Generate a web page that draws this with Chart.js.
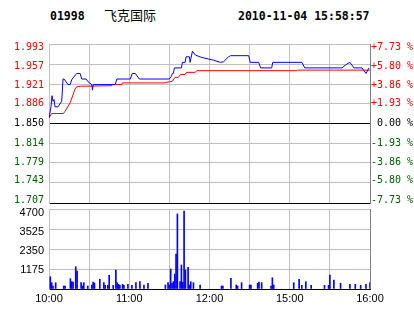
<!DOCTYPE html>
<html>
<head>
<meta charset="utf-8">
<script src="https://cdn.jsdelivr.net/npm/chart.js@4.4.0/dist/chart.umd.min.js"></script>
<style>
body{margin:0;background:#fff;width:414px;height:314px;overflow:hidden;position:relative}
canvas{position:absolute;left:0;top:0}
.hd{position:absolute;top:9px;font:bold 11.5px "DejaVu Sans Mono",monospace;color:#000;line-height:14px;white-space:pre}
.nm{position:absolute;top:7px;left:104px;font:13px "Noto Sans CJK SC";line-height:16px;color:#000}
</style>
</head>
<body>
<div class="hd" style="left:50px">01998</div>
<div class="nm">飞克国际</div>
<div class="hd" style="left:238px">2010-11-04 15:58:57</div>
<canvas id="priceChart" width="414" height="314"></canvas>
<canvas id="volChart" width="414" height="314"></canvas>
<script>
// minutes from 10:00 (lunch break skipped, 240 = 16:00)
const timeTicks = [0, 30, 60, 90, 120, 150, 180, 210, 240];
const timeLabels = ['10:00', '', '11:00', '', '12:00', '', '15:00', '', '16:00'];

const priceTicks = [1.707, 1.743, 1.779, 1.814, 1.850, 1.886, 1.921, 1.957, 1.993];
const priceTickLabels = ['1.707', '1.743', '1.779', '1.814', '1.850', '1.886', '1.921', '1.957', '1.993'];
const pctTickLabels = ['-7.73 %', '-5.80 %', '-3.86 %', '-1.93 %', ' 0.00 %', '+1.93 %', '+3.86 %', '+5.80 %', '+7.73 %'];

// last price (blue)
const priceMinutes = [0, 1.5, 2.25, 3, 3.75, 4.5, 6.75, 9.5, 10.5, 11.25, 14.25, 15.75, 17.25, 20.75, 23.25, 24.5, 27.75, 29.25,
  32, 32.5, 33, 49.5, 50.75, 60.75, 62.25, 64.5, 67.5, 90, 91.5, 92.25, 93, 93.75, 99, 99.75, 101.75, 102.5, 105, 105.5,
  107.25, 109.5, 114, 119.25, 123, 128, 130.5, 134.25, 135.75, 149.25, 150.5, 156.75, 158.25, 166.5, 167.25, 189, 191.25,
  219, 222.75, 225, 228, 234, 235.5, 237, 239.25];
const priceValues = [1.86, 1.88, 1.90, 1.89, 1.893, 1.88, 1.88, 1.89, 1.93, 1.93, 1.92, 1.92, 1.93, 1.94, 1.94, 1.93, 1.93, 1.925,
  1.92, 1.91, 1.92, 1.92, 1.93, 1.93, 1.94, 1.94, 1.93, 1.93, 1.935, 1.94, 1.94, 1.95, 1.95, 1.96, 1.96, 1.97, 1.97, 1.96,
  1.98, 1.973, 1.969, 1.966, 1.964, 1.96, 1.961, 1.97, 1.972, 1.972, 1.96, 1.96, 1.95, 1.95, 1.96, 1.96, 1.95,
  1.95, 1.957, 1.96, 1.95, 1.95, 1.945, 1.94, 1.95];

// average price (red)
const avgMinutes = [0, 2, 10.75, 12, 15.75, 19.5, 20.75, 23.25, 47, 47.25, 54.5, 54.75, 86.75, 87, 90, 92.25, 94.25, 96.75,
  98.25, 101.75, 102.75, 109.25, 110.5, 185.25, 185.6, 240];
const avgValues = [1.860, 1.868, 1.868, 1.872, 1.887, 1.912, 1.916, 1.917, 1.918, 1.920, 1.920, 1.923, 1.923, 1.924, 1.925,
  1.926, 1.933, 1.933, 1.938, 1.938, 1.942, 1.942, 1.945, 1.945, 1.946, 1.946];

// volume
const volMinutes = [1, 2, 3, 5, 11, 12, 16, 17, 18, 20, 21, 24, 25, 26, 29, 32, 33, 34, 38, 41, 42, 44, 45, 48, 50, 51, 52, 53,
  55, 56, 59, 62, 65, 68, 71, 74, 87, 89, 90, 91, 92, 93, 94, 95, 96, 98, 99, 100, 101, 102, 104, 105, 106, 108, 113,
  129, 130, 136, 140, 141, 144, 150, 151, 156, 157, 159, 166, 167, 168, 183, 187, 189, 192, 196, 206, 209, 210, 213,
  218, 225, 229, 233, 237, 240];
const volValues = [720, 370, 176, 370, 176, 176, 605, 430, 400, 1310, 1058, 370, 176, 370, 176, 235, 410, 350, 570, 370, 215,
  215, 805, 215, 1116, 370, 275, 215, 275, 215, 275, 215, 370, 430, 235, 335, 235, 370, 235, 1175, 335, 430, 880, 2056,
  4406, 430, 1410, 395, 4583, 1116, 1275, 235, 430, 370, 235, 176, 176, 630, 235, 176, 370, 235, 235, 335, 410, 370,
  176, 660, 235, 370, 570, 215, 430, 215, 215, 215, 820, 530, 335, 275, 275, 215, 275, 370];

const volTicks = [0, 1175, 2350, 3525, 4700];
const volTickLabels = ['', '1175', '2350', '3525', '4700'];

const GRID = '#c0c0c0';
const EDGE = '#808080';
const monoFont = {family: 'DejaVu Sans Mono', size: 10};

// small vertical shifts of tick labels, like the original (outer labels pulled inwards)
const nudgeLabels = {
  id: 'nudgeLabels',
  beforeDraw(chart, args, opts) {
    const offsets = opts.offsets || {};
    Object.keys(offsets).forEach(id => {
      const scale = chart.scales[id];
      if (!scale) return;
      scale.getLabelItems().forEach((item, i) => {
        if (item._nudged) return;
        item.options.translation[1] += offsets[id][i] || 0;
        item._nudged = true;
      });
    });
  }
};

function pctColor(c){
  if(c.index > 4) return '#ff0000';
  if(c.index === 4) return '#000000';
  return '#006000';
}

const xCommon = {
  type: 'linear', min: 0, max: 240, offset: false,
  afterBuildTicks: s => { s.ticks = timeTicks.map(v => ({value: v})); },
  grid: {color: c => c.index === 8 ? EDGE : GRID, drawTicks: false, offset: false},
  border: {color: '#000000'}
};

const priceNudge = [-3, -2.5, -1, 0, 0, 0, 1.5, 2.5, 3.5];

new Chart(document.getElementById('priceChart'), {
  type: 'line',
  data: {
    datasets: [
      {data: priceMinutes.map((m, i) => ({x: m, y: priceValues[i]})), borderColor: '#0000ff', borderWidth: 1, pointRadius: 0, tension: 0, yAxisID: 'y'},
      {data: avgMinutes.map((m, i) => ({x: m, y: avgValues[i]})), borderColor: '#ff0000', borderWidth: 1, pointRadius: 0, tension: 0, yAxisID: 'y'}
    ]
  },
  plugins: [nudgeLabels],
  options: {
    responsive: false, animation: false, events: [],
    layout: {padding: {top: 44, bottom: 111, left: 0, right: 0}},
    plugins: {legend: {display: false}, tooltip: {enabled: false}, nudgeLabels: {offsets: {y: priceNudge, y2: priceNudge}}},
    scales: {
      x: Object.assign({}, xCommon, {ticks: {display: false}, afterFit: s => { s.height = 0; }}),
      y: {
        position: 'left', min: 1.707, max: 1.993,
        afterBuildTicks: s => { s.ticks = priceTicks.map(v => ({value: v})); },
        ticks: {font: monoFont, color: pctColor, padding: 5, callback: (v, i) => priceTickLabels[i]},
        grid: {color: c => (c.index === 4 || c.index === 0) ? '#000000' : GRID, drawTicks: false},
        border: {color: GRID},
        afterFit: s => { s.width = 49; }
      },
      y2: {
        position: 'right', min: 1.707, max: 1.993,
        afterBuildTicks: s => { s.ticks = priceTicks.map(v => ({value: v})); },
        ticks: {font: monoFont, color: pctColor, padding: 1, callback: (v, i) => pctTickLabels[i]},
        grid: {display: false, drawTicks: false},
        border: {color: EDGE},
        afterFit: s => { s.width = 44; }
      }
    }
  }
});

new Chart(document.getElementById('volChart'), {
  type: 'bar',
  data: {
    datasets: [{data: volMinutes.map((m, i) => ({x: m, y: volValues[i]})), backgroundColor: '#0000ff', barThickness: 1}]
  },
  plugins: [nudgeLabels],
  options: {
    responsive: false, animation: false, events: [],
    layout: {padding: {top: 209, bottom: 0, left: 0, right: 44}},
    plugins: {legend: {display: false}, tooltip: {enabled: false}, nudgeLabels: {offsets: {y: [0, 0.7, 1.7, 3, 4]}}},
    scales: {
      x: Object.assign({}, xCommon, {
        ticks: {autoSkip: false, maxRotation: 0, padding: 3, color: '#000000',
          font: {family: 'Liberation Sans', size: 11}, callback: (v, i) => timeLabels[i]},
        afterFit: s => { s.height = 25; }
      }),
      y: {
        min: 0, max: 4700,
        afterBuildTicks: s => { s.ticks = volTicks.map(v => ({value: v})); },
        ticks: {font: {family: 'Liberation Sans', size: 11}, color: '#000000', padding: 5, callback: (v, i) => volTickLabels[i]},
        grid: {color: c => c.index === 0 ? '#000000' : GRID, drawTicks: false},
        border: {color: GRID},
        afterFit: s => { s.width = 49; }
      }
    }
  }
});
</script>
</body>
</html>
